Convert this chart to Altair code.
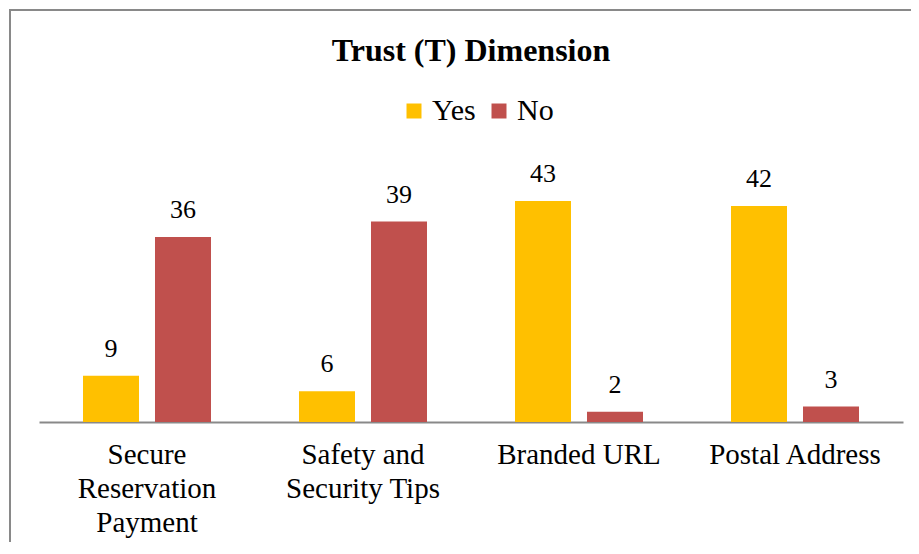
import altair as alt
import pandas as pd

categories = ["Secure Reservation Payment", "Safety and Security Tips", "Branded URL", "Postal Address"]
category_lines = [["Secure", "Reservation", "Payment"], ["Safety and", "Security Tips"], ["Branded URL"], ["Postal Address"]]
series = ["Yes", "No"]
yes_values = [9, 6, 43, 42]
no_values = [36, 39, 2, 3]
colors = ["#FFC000", "#C0504D"]
title_text = "Trust (T) Dimension"

FONT = "Times New Roman, Liberation Serif, serif"

rows = []
for c, y, n in zip(categories, yes_values, no_values):
    rows.append({"category": c, "answer": "Yes", "count": y})
    rows.append({"category": c, "answer": "No", "count": n})
df = pd.DataFrame(rows)

# multi-line axis labels via nested ternary
expr = "datum.label"
for c, lines in reversed(list(zip(categories, category_lines))):
    arr = "[" + ",".join("'" + l + "'" for l in lines) + "]"
    expr = f"datum.label == '{c}' ? {arr} : ({expr})"

x_enc = alt.X(
    "category:N",
    sort=categories,
    scale=alt.Scale(paddingInner=0, paddingOuter=0),
    axis=alt.Axis(
        title=None, labelAngle=0, ticks=False, domainColor="#898989", domainWidth=2,
        labelExpr=expr, labelFont=FONT, labelFontSize=29, labelLineHeight=34,
        labelPadding=18, labelColor="#000000", grid=False,
    ),
)
xoff_enc = alt.XOffset("answer:N", sort=series, scale=alt.Scale(paddingInner=0.2222, paddingOuter=0.6111))
y_enc = alt.Y("count:Q", scale=alt.Scale(domain=[0, 50]), axis=None)

bars = alt.Chart(df).mark_bar().encode(
    x=x_enc,
    xOffset=xoff_enc,
    y=y_enc,
    color=alt.Color(
        "answer:N", sort=series,
        scale=alt.Scale(domain=series, range=colors),
        legend=alt.Legend(
            title=None, orient="none", legendX=360, legendY=-69, direction="horizontal",
            symbolType="square", symbolSize=225, symbolStrokeWidth=0,
            labelFont=FONT, labelFontSize=30, labelColor="#000000",
            labelOffset=3, columnPadding=8,
        ),
    ),
)

labels = alt.Chart(df).mark_text(font=FONT, fontSize=26, color="#000000", dy=-19, baseline="alphabetic").encode(
    x=x_enc,
    xOffset=xoff_enc,
    y=y_enc,
    text="count:Q",
)

border = alt.Chart(pd.DataFrame({"k": [0]})).mark_rect(
    fillOpacity=0, stroke="#898989", strokeWidth=2
).encode(
    x=alt.value(-29), y=alt.value(-155), x2=alt.value(2000), y2=alt.value(2000)
)

chart = alt.layer(border, bars, labels).properties(
    width=864,
    height=257,
    title=alt.TitleParams(
        title_text, font=FONT, fontSize=32, fontWeight="bold", anchor="middle",
        color="#000000", offset=-59,
    ),
    autosize=alt.AutoSizeParams(type="none"),
    padding={"left": 31, "top": 157, "right": 8, "bottom": 120},
).configure_view(stroke=None)

chart.save("out.html", embed_options={"renderer": "svg", "actions": False})
